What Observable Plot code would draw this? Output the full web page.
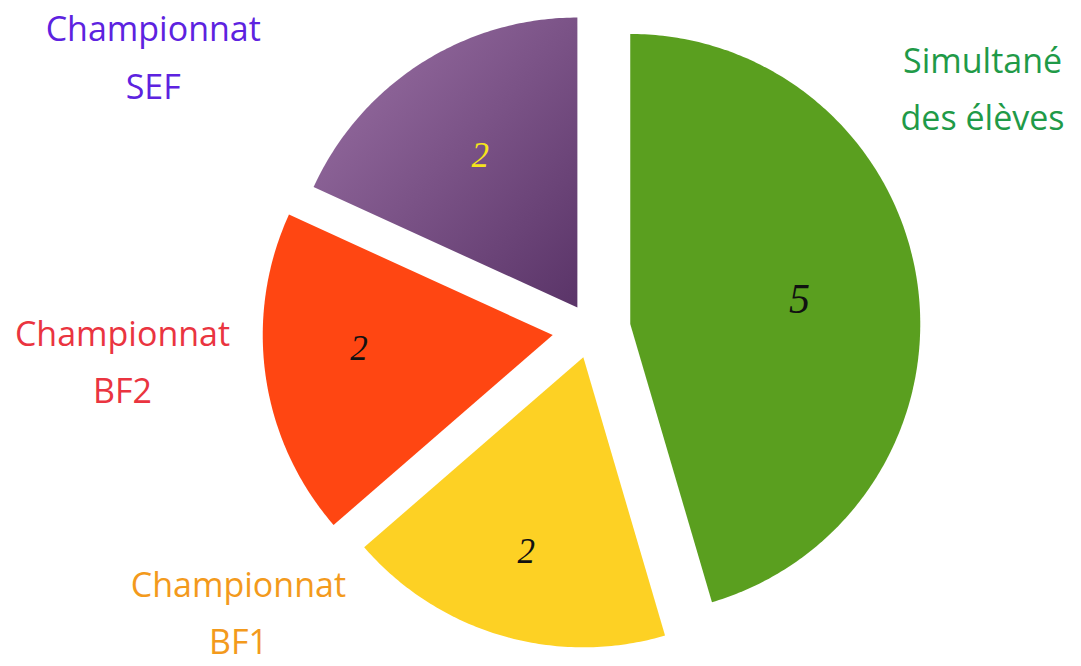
<!DOCTYPE html>
<html>
<head>
<meta charset="utf-8">
<script src="https://cdn.jsdelivr.net/npm/d3@7"></script>
<script src="https://cdn.jsdelivr.net/npm/@observablehq/plot@0.6"></script>
<style>
  html, body { margin: 0; padding: 0; background: #ffffff; }
  #chart svg { display: block; }
</style>
</head>
<body>
<div id="chart"></div>
<script>
// ---- Data ----
const categories = ["Simultané des élèves", "Championnat BF1", "Championnat BF2", "Championnat SEF"];
const values = [5, 2, 2, 2];
const labelLines = [["Simultané", "des élèves"], ["Championnat", "BF1"], ["Championnat", "BF2"], ["Championnat", "SEF"]];

// ---- Styles / layout ----
const W = 1081, H = 666;
const R = 290;                 // pie radius in px
const CX = 591, CY = 329;      // pie centre in px
const sliceFill = ["#5a9f1f", "#fdd124", "#ff4612", "url(#sefGrad)"];
const labelColor = ["#1f9a48", "#f39a1c", "#ea3440", "#5d22e0"];
const valueColor = ["#111111", "#111111", "#111111", "#f5e51a"];
const valueSize = [42, 35, 35, 35];
const explode = [0.135, 0.10, 0.135, 0.09];           // radial offset, in radii
const valueDist = [0.59, 0.70, 0.67, 0.62];           // value label distance, in radii
const valueNudge = [0, 0, 4, 0];                      // angular nudge of value label, deg
const labelPolar = [[58.35, 1.584], [231.3, 1.560], [266.1, 1.621], [301.9, 1.780]]; // [deg, radii]

// ---- Geometry built from the values ----
const total = d3.sum(values);
let acc = 0;
const slices = categories.map((c, i) => {
  const a0 = acc / total * 2 * Math.PI;
  acc += values[i];
  const a1 = acc / total * 2 * Math.PI;
  const mid = (a0 + a1) / 2;
  const ox = explode[i] * Math.sin(mid), oy = explode[i] * Math.cos(mid);
  return {i, category: c, value: values[i], a0, a1, mid, ox, oy};
});

function slicePoints(s) {
  const pts = [{x: s.ox, y: s.oy}];
  const n = Math.max(8, Math.round((s.a1 - s.a0) * 80));
  for (let k = 0; k <= n; k++) {
    const a = s.a0 + (s.a1 - s.a0) * k / n;
    pts.push({x: s.ox + Math.sin(a), y: s.oy + Math.cos(a)});
  }
  return pts;
}

const valueLabels = slices.map(s => {
  const a = s.mid + valueNudge[s.i] * Math.PI / 180;
  return {
    x: s.ox + valueDist[s.i] * Math.sin(a),
    y: s.oy + valueDist[s.i] * Math.cos(a),
    text: String(s.value), i: s.i
  };
});

const catLabels = slices.map(s => {
  const [deg, d] = labelPolar[s.i];
  const a = deg * Math.PI / 180;
  return {x: d * Math.sin(a), y: d * Math.cos(a), text: labelLines[s.i].join("\n"), i: s.i};
});

const xDomain = [-CX / R, (W - CX) / R];
const yDomain = [-(H - CY) / R, CY / R];

const marks = [];
slices.forEach(s => {
  marks.push(Plot.line(slicePoints(s), {x: "x", y: "y", fill: sliceFill[s.i], stroke: "none", curve: "linear-closed"}));
});
valueLabels.forEach(v => {
  marks.push(Plot.text([v], {x: "x", y: "y", text: "text", fill: valueColor[v.i], fontSize: valueSize[v.i],
    fontFamily: "'Liberation Serif', 'DejaVu Serif', serif", fontStyle: "italic"}));
});
catLabels.forEach(l => {
  marks.push(Plot.text([l], {x: "x", y: "y", text: "text", fill: labelColor[l.i], fontSize: 34,
    lineHeight: 1.68, dy: -5, fontFamily: "'Open Sans', sans-serif"}));
});

const svg = Plot.plot({
  width: W, height: H, margin: 0,
  style: {background: "#ffffff"},
  x: {domain: xDomain, axis: null},
  y: {domain: yDomain, axis: null},
  marks
});

const defs = d3.select(svg).insert("defs", ":first-child");
const grad = defs.append("linearGradient").attr("id", "sefGrad")
  .attr("x1", "0").attr("y1", "0").attr("x2", "1").attr("y2", "1");
grad.append("stop").attr("offset", "0%").attr("stop-color", "#9c72a6");
grad.append("stop").attr("offset", "100%").attr("stop-color", "#5a3468");

document.getElementById("chart").appendChild(svg);
</script>
</body>
</html>
